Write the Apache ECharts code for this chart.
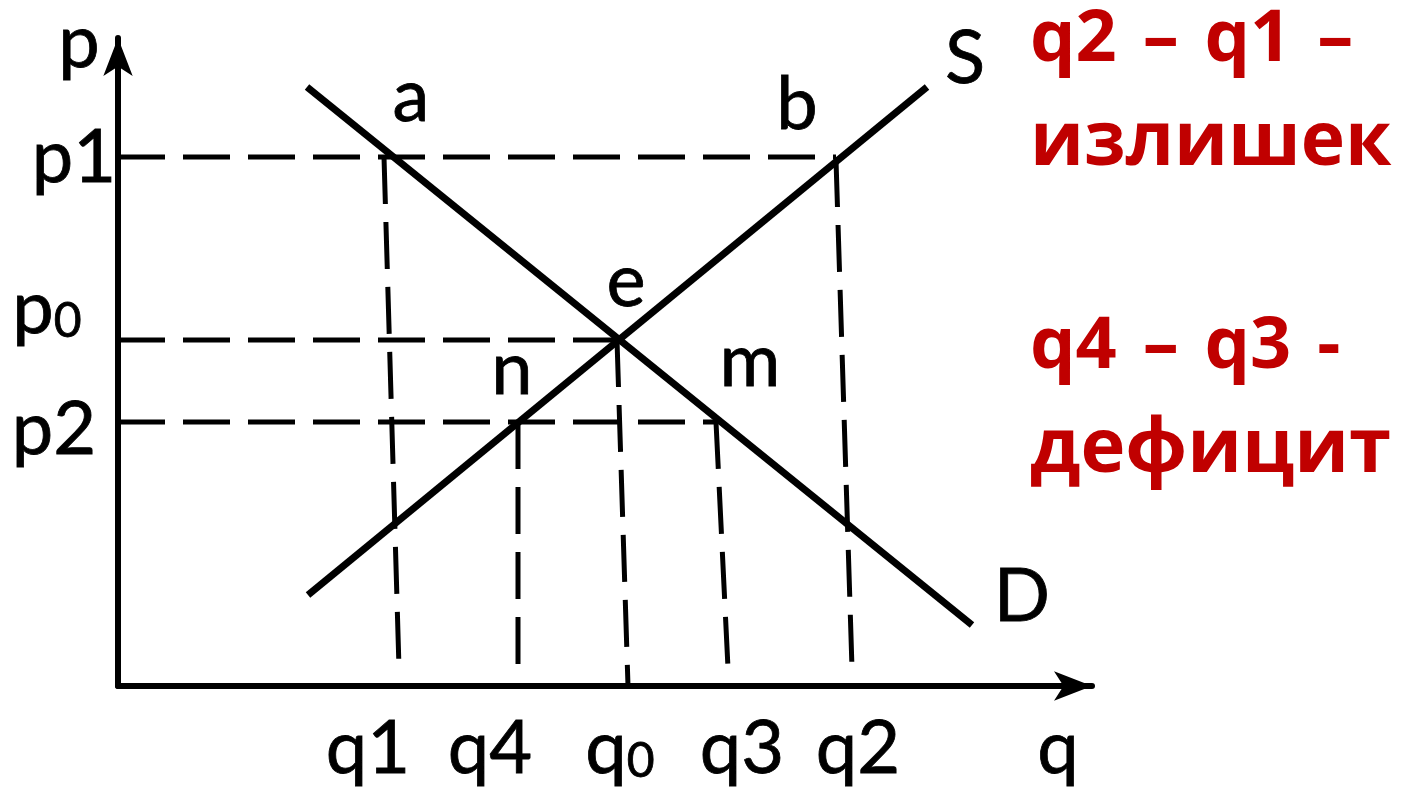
<!DOCTYPE html>
<html>
<head>
<meta charset="utf-8">
<style>
  html, body { margin: 0; padding: 0; background: #fff; }
  #chart { width: 1408px; height: 793px; }
</style>
<script src="https://cdn.jsdelivr.net/npm/echarts@6/dist/echarts.min.js"></script>
</head>
<body>
<div id="chart"></div>
<script>
// demand and supply lines, (q, p) end points
const demandQ = [18.9, 85.4];
const demandP = [59.9, 6.1];
const supplyQ = [19.0, 80.9];
const supplyP = [9.1, 59.9];

// price levels and where their dashed guides stop
const priceNames = ['p1', 'p0', 'p2'];
const priceLevels = [52.9, 34.6, 26.4];
const priceEnds = [71.8, 50.0, 59.8];

// quantity guides, drawn from top point down to bottom point
const qtyNames = ['q1', 'q4', 'q0', 'q3', 'q2'];
const qtyTopQ = [26.6, 40.0, 49.9, 59.8, 71.8];
const qtyTopP = [52.9, 26.4, 34.6, 26.4, 52.6];
const qtyBottomQ = [28.1, 40.0, 51.0, 61.0, 73.4];
const qtyBottomP = [1.8, 1.8, 0, 1.8, 1.8];

// named points on the curves
const pointNames = ['a', 'b', 'e', 'n', 'm', 'S', 'D'];
const pointQ = [27.2, 71.8, 50.0, 40.0, 59.8, 80.9, 85.4];
const pointP = [52.9, 52.9, 34.6, 26.4, 26.4, 59.9, 6.1];

const notes = ['q2 – q1 –', 'излишек', 'q4 – q3 -', 'дефицит'];

const qMax = 97.4;
const pMax = 64.8;

// label placement relative to its anchor, px
const labelOffset = {
  a: [21, -60], b: [-39, -52], e: [8, -58], n: [-6, -52], m: [34, -60], S: [38, -28], D: [50, -28],
  p: [-39, 5], p1: [-44, 1], p0: [-71, -31], p2: [-64, 8],
  q1: [-31, 63], q4: [-28, 63], q0: [-8, 63], q3: [14, 63], q2: [6, 63], q: [-34, 63]
};
const noteTop = [4, 106, 311, 412];
const noteSize = [72, 75, 72, 76];

const chart = echarts.init(document.getElementById('chart'), null, { renderer: 'canvas' });

const solid = { color: '#000', width: 7 };
const dashed = { color: '#000', width: 5, type: [47, 18] };

function lineSeries(points, style) {
  return {
    type: 'line',
    data: points,
    symbol: 'none',
    silent: true,
    animation: false,
    lineStyle: style
  };
}

const series = [];
priceNames.forEach((n, i) => {
  series.push(lineSeries([[0, priceLevels[i]], [priceEnds[i], priceLevels[i]]], dashed));
});
qtyNames.forEach((n, i) => {
  series.push(lineSeries([[qtyTopQ[i], qtyTopP[i]], [qtyBottomQ[i], qtyBottomP[i]]], dashed));
});
series.push(lineSeries(demandQ.map((q, i) => [q, demandP[i]]), solid));
series.push(lineSeries(supplyQ.map((q, i) => [q, supplyP[i]]), solid));

// all letters as labels of invisible points
const labelItems = [];
pointNames.forEach((n, i) => labelItems.push({ name: n, value: [pointQ[i], pointP[i]] }));
priceNames.forEach((n, i) => labelItems.push({ name: n, value: [0, priceLevels[i]] }));
qtyNames.forEach((n, i) => labelItems.push({ name: n, value: [qtyBottomQ[i], 0] }));
labelItems.push({ name: 'p', value: [0, pMax] });
labelItems.push({ name: 'q', value: [qMax, 0] });
labelItems.forEach(d => { d.label = { offset: labelOffset[d.name] }; });

// a thin outline makes Lato about as heavy as the slide font
const ink = { color: '#000', textBorderColor: '#000', textBorderWidth: 0.8 };

series.push({
  type: 'scatter',
  data: labelItems,
  symbolSize: 0,
  silent: true,
  animation: false,
  itemStyle: { opacity: 1 }, // scatter is 0.8 by default, labels follow it
  label: {
    show: true,
    position: 'inside',
    color: '#000',
    formatter: p => p.name.length === 2 && p.name[1] === '0'
      ? '{m|' + p.name[0] + '}{s|0}'
      : '{m|' + p.name + '}',
    rich: {
      m: Object.assign({ fontFamily: 'Lato', fontSize: 74 }, ink),
      s: Object.assign({ fontFamily: 'Lato', fontSize: 48, verticalAlign: 'bottom' }, ink)
    }
  }
});

const axisCommon = {
  type: 'value',
  min: 0,
  axisLine: {
    show: true,
    symbol: ['none', 'arrow'],
    symbolSize: [22, 38],
    lineStyle: { color: '#000', width: 6 }
  },
  axisTick: { show: false },
  axisLabel: { show: false },
  splitLine: { show: false }
};

chart.setOption({
  backgroundColor: '#fff',
  animation: false,
  grid: { left: 118, right: 316, top: 38, bottom: 107, containLabel: false, outerBoundsMode: 'none' },
  xAxis: Object.assign({}, axisCommon, { max: qMax }),
  yAxis: Object.assign({}, axisCommon, { max: pMax }),
  graphic: notes.map((t, i) => ({
    type: 'text',
    left: 1030,
    top: noteTop[i],
    silent: true,
    style: {
      // slightly wider word gaps, as in the original slide
      text: t.replace(/ /g, ' \u200A'),
      font: 'bold ' + noteSize[i] + 'px "Open Sans"',
      fill: '#c00000'
    }
  })),
  series: series
});
</script>
</body>
</html>
